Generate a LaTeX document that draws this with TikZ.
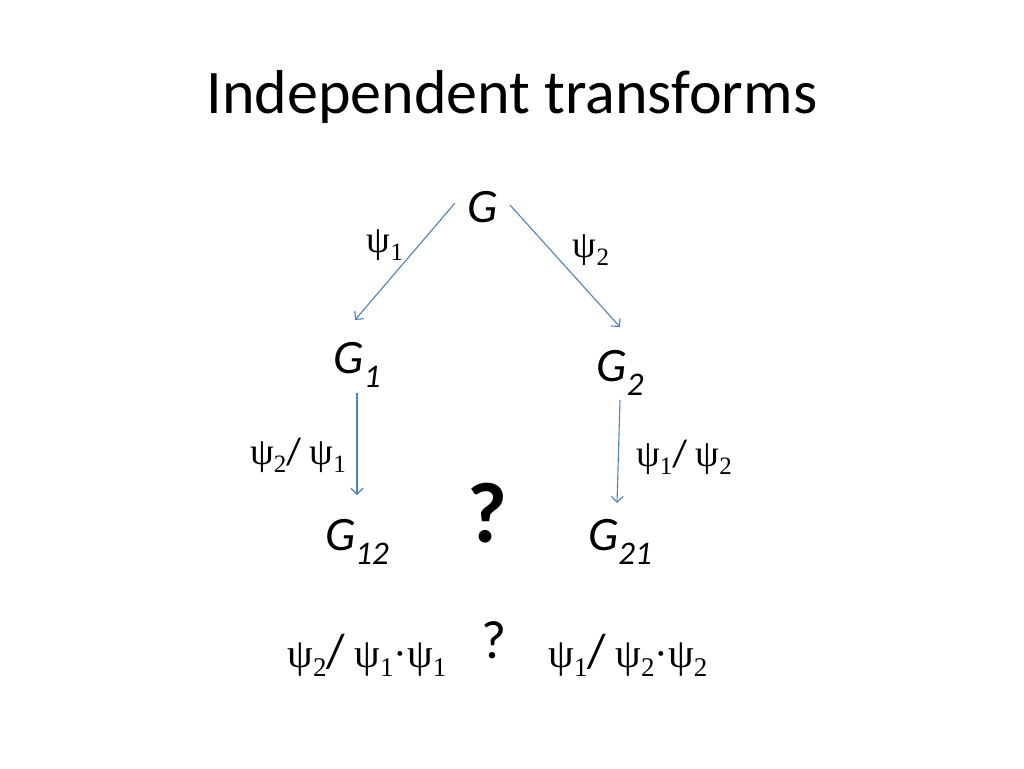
\documentclass[tikz,border=0pt]{standalone}
\usepackage{fontspec}
\setmainfont{Carlito}
\newfontfamily\tnr{Liberation Serif}
\usetikzlibrary{arrows.meta}
\definecolor{arrowblue}{RGB}{79,129,189}
\newcommand{\psisub}[1]{{\tnr ψ\raisebox{-0.22em}{\fontsize{25}{25}\selectfont #1}}}
\newcommand{\psibig}[1]{{\tnr ψ\raisebox{-0.22em}{\fontsize{27}{27}\selectfont #1}}}
\newcommand{\gsub}[1]{{\itshape G\raisebox{-0.3em}{\fontsize{33}{33}\selectfont #1}}}
\tikzset{
  glabel/.style={inner sep=0pt, font=\fontsize{48}{48}\selectfont},
  psilabel/.style={inner sep=0pt, font=\fontsize{38}{38}\selectfont},
  psibot/.style={inner sep=0pt, font=\fontsize{41}{41}\selectfont},
  conn/.style={draw=arrowblue, line width=1.1pt, -{Straight Barb[length=6pt,width=12pt]}}
}
\begin{document}
\begin{tikzpicture}[x=1pt,y=-1pt]
\useasboundingbox[fill=white] (0,0) rectangle (1024,768);
\node[inner sep=0pt, font=\fontsize{62}{62}\selectfont] (title) at (512,97) {Independent transforms};
\node[glabel] (G) at (483,207) {\itshape G};
\node[glabel] (G1) at (357,365) {\gsub{1}};
\node[glabel] (G2) at (620,373) {\gsub{2}};
\node[glabel] (G12) at (357,542) {\gsub{12}};
\node[glabel] (G21) at (620,542) {\gsub{21}};
\node[inner sep=0pt, font=\fontsize{86}{86}\selectfont\bfseries] (q1) at (487,513) {?};
\coordinate (a1s) at (455,203);
\coordinate (a1e) at (355,320);
\coordinate (a2s) at (510,205);
\coordinate (a2e) at (620,327);
\coordinate (a3s) at (357,393);
\coordinate (a3e) at (357,495);
\coordinate (a4s) at (620,400);
\coordinate (a4e) at (617,503);
\draw[conn] (a1s) -- (a1e);
\draw[conn] (a2s) -- (a2e);
\draw[conn] (a3s) -- (a3e);
\draw[conn] (a4s) -- (a4e);
\node[psilabel] (p1) at (385,245) {\psisub{1}};
\node[psilabel] (p2) at (591,250) {\psisub{2}};
\node[psilabel] (p21) at (298,455) {\psisub{2}/ \psisub{1}};
\node[psilabel] (p12) at (684,457) {\psisub{1}/ \psisub{2}};
\node[psibot] (b1) at (367,655) {\psibig{2}{\fontsize{48}{48}\selectfont /} \psibig{1}{\tnr·}\psibig{1}};
\node[inner sep=0pt, font=\fontsize{54}{54}\selectfont] (q2) at (494,640) {?};
\node[psibot] (b2) at (628,655) {\psibig{1}{\fontsize{48}{48}\selectfont /} \psibig{2}{\tnr·}\psibig{2}};
\end{tikzpicture}
\end{document}
